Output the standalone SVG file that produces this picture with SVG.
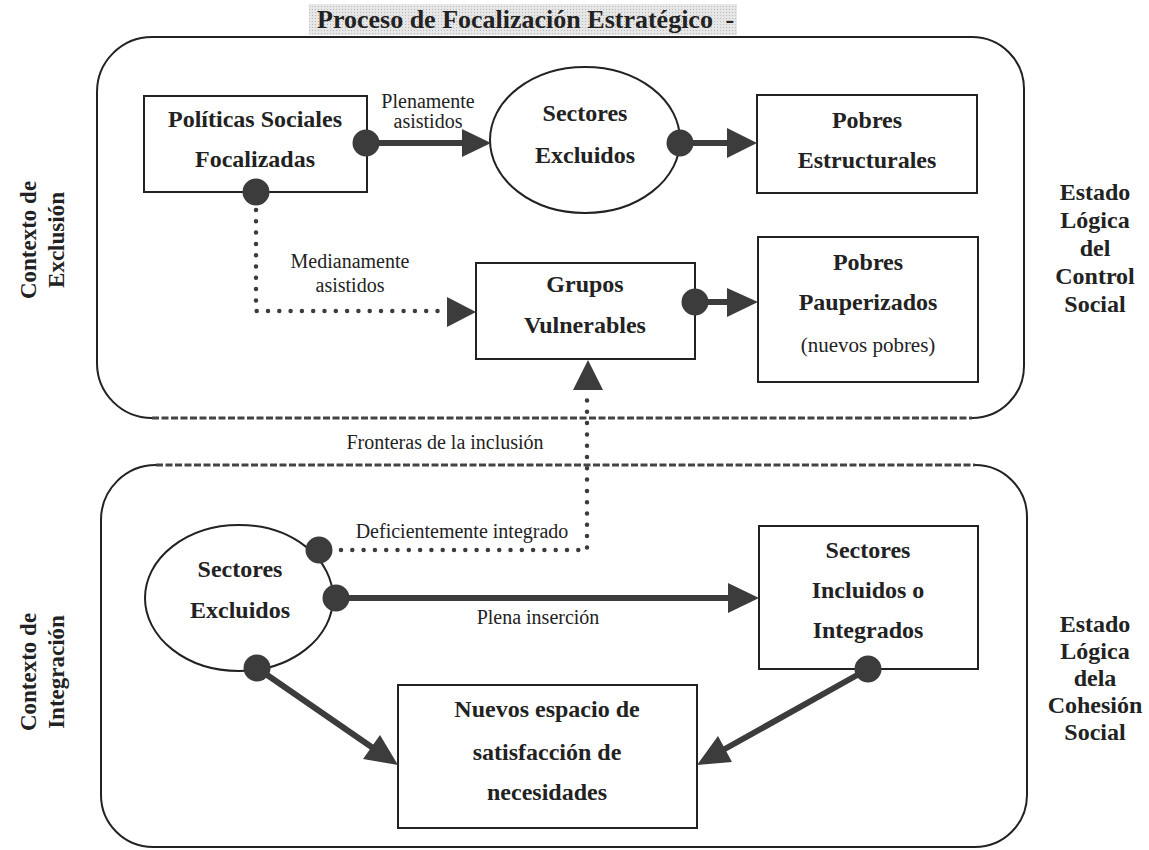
<svg xmlns="http://www.w3.org/2000/svg" width="1149" height="850" viewBox="0 0 1149 850">
<defs>
<style>
.t{font-family:"Liberation Serif","Times New Roman",serif;fill:#222;text-anchor:middle}
.b{font-weight:bold;font-size:24px}
.r{font-size:20px}
.box{fill:#fff;stroke:#222;stroke-width:2}
.cont{fill:none;stroke:#222;stroke-width:2}
.dash{stroke:#444;stroke-width:3;stroke-dasharray:7 2.5;fill:none}
.dot{fill:#3c3c3c}
.shaft{stroke:#3c3c3c;stroke-width:6;fill:none}
.dotted{stroke:#3c3c3c;stroke-width:4.5;stroke-dasharray:0 11.3;stroke-linecap:round;fill:none}
.head{fill:#3c3c3c}
.side{font-weight:bold;font-size:23px}
</style>
<pattern id="stipple" width="3" height="3" patternUnits="userSpaceOnUse">
<rect width="3" height="3" fill="#e6e6e6"/>
<rect width="1" height="1" fill="#b8b8b8"/>
</pattern>
</defs>
<rect width="1149" height="850" fill="#fff"/>

<g id="title">
<rect x="309" y="4" width="428" height="31" fill="url(#stipple)"/>
<text class="t" x="317" y="28" style="text-anchor:start;font-weight:bold;font-size:26px">Proceso de Focalización Estratégico <tspan dx="6">-</tspan></text>
</g>

<g id="context-exclusion">
<path class="cont" d="M152,418 A55,55 0 0 1 97,363 V92 A55,55 0 0 1 152,37 H972 A52,52 0 0 1 1024,89 V366 A52,52 0 0 1 972,418"/>
<line class="dash" x1="152" y1="418" x2="972" y2="418"/>
<text class="t side" transform="translate(36,240) rotate(-90)">Contexto de</text>
<text class="t side" transform="translate(64,240) rotate(-90)">Exclusión</text>
<text class="t b" x="1095" y="200">Estado</text>
<text class="t b" x="1095" y="228">Lógica</text>
<text class="t b" x="1095" y="256">del</text>
<text class="t b" x="1095" y="284">Control</text>
<text class="t b" x="1095" y="312">Social</text>
</g>

<g id="context-integracion">
<path class="cont" d="M156,465 A55,55 0 0 0 101,520 V795 A52,52 0 0 0 153,847 H975 A52,52 0 0 0 1027,795 V517 A52,52 0 0 0 975,465"/>
<line class="dash" x1="156" y1="465" x2="975" y2="465"/>
<text class="t side" transform="translate(36,672) rotate(-90)">Contexto de</text>
<text class="t side" transform="translate(64,672) rotate(-90)">Integración</text>
<text class="t b" x="1095" y="632">Estado</text>
<text class="t b" x="1095" y="659">Lógica</text>
<text class="t b" x="1095" y="686">dela</text>
<text class="t b" x="1095" y="713">Cohesión</text>
<text class="t b" x="1095" y="740">Social</text>
</g>

<text class="t r" x="445" y="449">Fronteras de la inclusión</text>

<g id="politicas">
<rect class="box" x="144" y="96" width="223" height="96"/>
<text class="t b" x="255" y="127">Políticas Sociales</text>
<text class="t b" x="255" y="167">Focalizadas</text>
</g>

<g id="sectores-excluidos-1">
<ellipse class="box" cx="585" cy="140" rx="95" ry="73"/>
<text class="t b" x="585" y="121">Sectores</text>
<text class="t b" x="585" y="163">Excluidos</text>
</g>

<g id="pobres-estructurales">
<rect class="box" x="757" y="95" width="220" height="98"/>
<text class="t b" x="867" y="128">Pobres</text>
<text class="t b" x="867" y="168">Estructurales</text>
</g>

<g id="grupos-vulnerables">
<rect class="box" x="476" y="263" width="219" height="96"/>
<text class="t b" x="585" y="292">Grupos</text>
<text class="t b" x="585" y="333">Vulnerables</text>
</g>

<g id="pobres-pauperizados">
<rect class="box" x="758" y="237" width="220" height="145"/>
<text class="t b" x="868" y="270">Pobres</text>
<text class="t b" x="868" y="310">Pauperizados</text>
<text class="t r" x="868" y="352" style="font-size:21px">(nuevos pobres)</text>
</g>

<g id="sectores-excluidos-2">
<ellipse class="box" cx="239" cy="598" rx="94" ry="73"/>
<text class="t b" x="240" y="577">Sectores</text>
<text class="t b" x="240" y="618">Excluidos</text>
</g>

<g id="sectores-incluidos">
<rect class="box" x="759" y="526" width="219" height="143"/>
<text class="t b" x="868" y="558">Sectores</text>
<text class="t b" x="868" y="598">Incluidos o</text>
<text class="t b" x="868" y="638">Integrados</text>
</g>

<g id="nuevos-espacios">
<rect class="box" x="398" y="685" width="299" height="143"/>
<text class="t b" x="547" y="717">Nuevos espacio de</text>
<text class="t b" x="547" y="760">satisfacción de</text>
<text class="t b" x="547" y="800">necesidades</text>
</g>

<g id="connectors">
<line class="shaft" x1="366" y1="143" x2="464" y2="143"/>
<polygon class="head" points="462,129 491,143 462,157"/>
<circle class="dot" cx="366" cy="143" r="13.5"/>
<text class="t r" x="428" y="108">Plenamente</text>
<text class="t r" x="428" y="128">asistidos</text>

<line class="shaft" x1="680" y1="143" x2="729" y2="143"/>
<polygon class="head" points="727,128 757,143 727,158"/>
<circle class="dot" cx="680" cy="143" r="13.5"/>

<path class="dotted" d="M256,210 V311 H440"/>
<polygon class="head" points="447,297 476,312 447,327"/>
<circle class="dot" cx="256" cy="192" r="13.5"/>
<text class="t r" x="350" y="268">Medianamente</text>
<text class="t r" x="350" y="292">asistidos</text>

<line class="shaft" x1="695" y1="302" x2="729" y2="302"/>
<polygon class="head" points="727,288 758,302 727,317"/>
<circle class="dot" cx="695" cy="302" r="13.5"/>

<path class="dotted" d="M341,550 H587 V395"/>
<polygon class="head" points="573,390 588,360 603,390"/>
<circle class="dot" cx="319" cy="550" r="13.5"/>
<text class="t r" x="462" y="538">Deficientemente integrado</text>

<line class="shaft" x1="336" y1="598" x2="730" y2="598"/>
<polygon class="head" points="728,583 759,598 728,613"/>
<circle class="dot" cx="336" cy="598" r="13.5"/>
<text class="t r" x="538" y="624">Plena inserción</text>

<line class="shaft" x1="257" y1="668" x2="373" y2="748"/>
<polygon class="head" points="363,759 398,765 380,735"/>
<circle class="dot" cx="257" cy="668" r="13.5"/>

<line class="shaft" x1="868" y1="669" x2="723" y2="750"/>
<polygon class="head" points="718,736 697,765 732,762"/>
<circle class="dot" cx="868" cy="669" r="13.5"/>
</g>
</svg>
